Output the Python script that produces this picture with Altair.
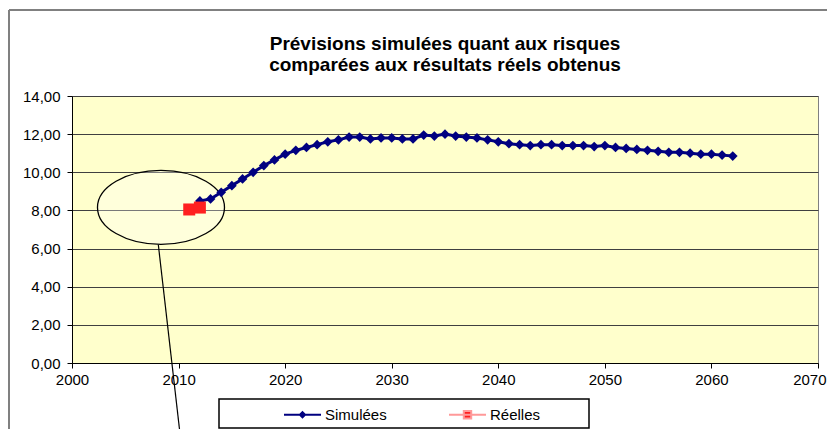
import altair as alt
import pandas as pd

# ---- data ----
years_sim = list(range(2012, 2063))
vals_sim = [8.50, 8.60, 8.95, 9.30, 9.65, 10.00, 10.35, 10.65, 10.95, 11.15,
            11.30, 11.45, 11.60, 11.70, 11.85, 11.85, 11.75, 11.80, 11.80, 11.75,
            11.75, 11.95, 11.90, 12.00, 11.90, 11.85, 11.80, 11.70, 11.60, 11.50,
            11.45, 11.40, 11.45, 11.45, 11.40, 11.40, 11.40, 11.35, 11.40, 11.30,
            11.25, 11.20, 11.15, 11.10, 11.05, 11.05, 11.00, 10.95, 10.95, 10.90,
            10.85]
years_reel = [2011, 2012]
vals_reel = [8.05, 8.15]

series_names = ["Simulées", "Réelles"]
title_lines = ["Prévisions simulées quant aux risques",
               "comparées aux résultats réels obtenus"]

# annotation (ellipse around the real results, leader line)
ellipse_center_year = [2008.35]
ellipse_center_val = [8.16]
leader_year = [2008.1]
leader_val = [6.2]
leader_year2 = [2010.4]
leader_val2 = [-5.0]

FONT = "Liberation Sans"
NAVY = "#000080"
RED = "#FF2020"
PINK = "#FF9999"

df_sim = pd.DataFrame({"year": years_sim, "value": vals_sim, "series": series_names[0]})
df_reel = pd.DataFrame({"year": years_reel, "value": vals_reel, "series": series_names[1]})
df_all = pd.concat([df_sim, df_reel], ignore_index=True)

xscale = alt.Scale(domain=[2000, 2070], nice=False, zero=False)
yscale = alt.Scale(domain=[0, 14], nice=False)

xaxis = alt.Axis(values=list(range(2000, 2071, 10)), format="d", grid=False,
                 title=None, tickSize=5, labelPadding=4, domainColor="black",
                 tickColor="black", labelFont=FONT, labelFontSize=15,
                 labelColor="black", labelFlush=False, labelOverlap=False,
                 labelAlign={"condition": {"test": "datum.value == 2070", "value": "right"},
                             "value": "center"},
                 labelOffset={"condition": {"test": "datum.value == 2070", "value": 8},
                              "value": 0})
yaxis = alt.Axis(values=list(range(0, 15, 2)), title=None, tickSize=5,
                 labelPadding=7, domainColor="black", tickColor="black",
                 labelFont=FONT, labelFontSize=15, labelColor="black",
                 labelExpr="replace(format(datum.value, '.2f'), '.', ',')",
                 grid=True, gridColor="#404040", gridWidth=1, labelOverlap=False)

base_x = alt.X("year:Q", scale=xscale, axis=xaxis)
base_y = alt.Y("value:Q", scale=yscale, axis=yaxis)

# ellipse annotation
ell_df = pd.DataFrame({"year": ellipse_center_year, "value": ellipse_center_val})
ellipse_path = "M-1,0 A1,0.583 0 1,1 1,0 A1,0.583 0 1,1 -1,0 Z"
ellipse = alt.Chart(ell_df).mark_point(
    shape=ellipse_path, size=16129, filled=True, fill="#FFFFFF", fillOpacity=0.3,
    stroke="#000000", strokeWidth=1.3, strokeOpacity=1, opacity=1
).encode(x=base_x, y=base_y)

lead_df = pd.DataFrame({"year": leader_year, "value": leader_val,
                        "year2": leader_year2, "value2": leader_val2})
leader = alt.Chart(lead_df).mark_rule(color="#000000", strokeWidth=1.2).encode(
    x=base_x, y=base_y, x2="year2:Q", y2="value2:Q")

sim_line = alt.Chart(df_sim).mark_line(color=NAVY, strokeWidth=3).encode(x=base_x, y=base_y)
sim_pts = alt.Chart(df_sim).mark_point(shape="diamond", size=95, filled=True,
                                       color=NAVY, opacity=1).encode(x=base_x, y=base_y)
reel_line = alt.Chart(df_reel).mark_line(color=PINK, strokeWidth=2).encode(x=base_x, y=base_y)
reel_pts = alt.Chart(df_reel).mark_point(shape="square", size=144, filled=True,
                                         color=RED, opacity=1).encode(x=base_x, y=base_y)

# legend box (white with black border)
box = alt.Chart(pd.DataFrame({"k": [0]})).mark_rect(
    fill="#FFFFFF", stroke="#000000", strokeWidth=1.5).encode(
    x=alt.value(147), x2=alt.value(517), y=alt.value(303), y2=alt.value(332))

# outer chart frame
frame_top = alt.Chart(pd.DataFrame({"k": [0]})).mark_rule(color="#808080", strokeWidth=2).encode(
    x=alt.value(-63), x2=alt.value(770), y=alt.value(-86))
frame_left = alt.Chart(pd.DataFrame({"k": [0]})).mark_rule(color="#808080", strokeWidth=2).encode(
    x=alt.value(-63), y=alt.value(-86), y2=alt.value(340))

# legend-only layer (no rows drawn)
sim_sym = "M-1,0L1,0 M0,-0.14L0.14,0L0,0.14L-0.14,0Z"
reel_sym = "M-1,0L1,0 M-0.2,-0.2L0.2,-0.2L0.2,0.2L-0.2,0.2Z"
legend = alt.Legend(title=None, orient="none", legendX=211, legendY=299,
                    direction="horizontal", columns=2, columnPadding=58,
                    labelFont=FONT, labelFontSize=15, labelColor="black",
                    labelOffset=3, symbolSize=1369, symbolStrokeWidth=2,
                    symbolOpacity=1, padding=0)
leg_layer = alt.Chart(df_all).transform_filter("false").mark_point(
    filled=True, opacity=1).encode(
    x=base_x, y=base_y,
    fill=alt.Fill("series:N", scale=alt.Scale(domain=series_names, range=[NAVY, RED]), legend=legend),
    stroke=alt.Stroke("series:N", scale=alt.Scale(domain=series_names, range=[NAVY, PINK]), legend=legend),
    shape=alt.Shape("series:N", scale=alt.Scale(domain=series_names, range=[sim_sym, reel_sym]), legend=legend),
)

chart = alt.layer(
    frame_top, frame_left, ellipse, sim_line, sim_pts, reel_line, reel_pts, leader, box, leg_layer
).properties(
    width=746, height=267,
    title=alt.TitleParams(text=title_lines, font=FONT, fontSize=19, fontWeight="bold",
                          color="black", anchor="middle", lineHeight=21, offset=-66),
    padding={"left": 64, "top": 88, "right": 9, "bottom": 66},
    autosize=alt.AutoSizeParams(type="none"),
    background="#FFFFFF",
).configure_view(
    fill="#FFFFCC", stroke="#808080", strokeWidth=1
)

chart.save("out.html", embed_options={"renderer": "svg", "actions": False})
